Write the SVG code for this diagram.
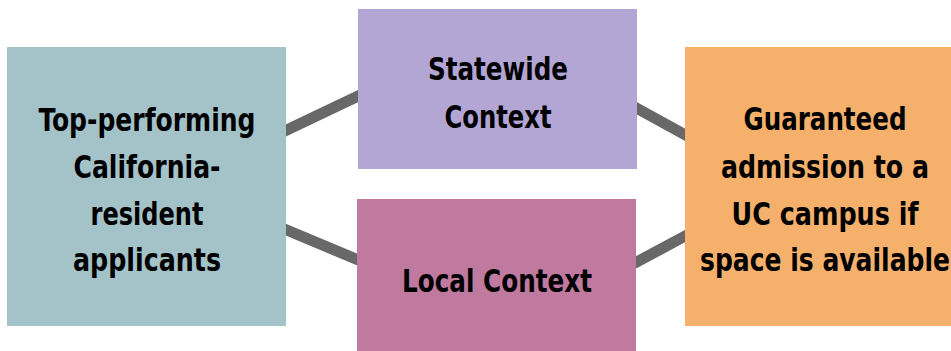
<svg xmlns="http://www.w3.org/2000/svg" width="951" height="351" viewBox="0 0 951 351">
<style>
.lbl{font-family:"Liberation Sans Narrow","DejaVu Sans Condensed","Liberation Sans",Arial,sans-serif;font-weight:bold;font-size:32px;fill:#000;text-anchor:middle}
.conn{stroke:#686868;stroke-width:11;fill:none}
</style>
<rect width="951" height="351" fill="#fff"/>
<g id="connectors">
<line class="conn" x1="270" y1="138" x2="375" y2="88"/>
<line class="conn" x1="270" y1="223" x2="375" y2="267"/>
<line class="conn" x1="620" y1="99" x2="700" y2="143"/>
<line class="conn" x1="620" y1="271" x2="700" y2="228"/>
</g>
<g id="applicants">
<rect x="7" y="47" width="279" height="279" fill="#a4c3c8"/>
<text class="lbl" x="147" y="131" textLength="217" lengthAdjust="spacingAndGlyphs">Top-performing</text>
<text class="lbl" x="147" y="178" textLength="147" lengthAdjust="spacingAndGlyphs">California-</text>
<text class="lbl" x="147" y="225" textLength="113" lengthAdjust="spacingAndGlyphs">resident</text>
<text class="lbl" x="147" y="271" textLength="148" lengthAdjust="spacingAndGlyphs">applicants</text>
</g>
<g id="statewide">
<rect x="358" y="9" width="279" height="160" fill="#b3a6d4"/>
<text class="lbl" x="498" y="80" textLength="140" lengthAdjust="spacingAndGlyphs">Statewide</text>
<text class="lbl" x="498" y="128" textLength="107" lengthAdjust="spacingAndGlyphs">Context</text>
</g>
<g id="local">
<rect x="357" y="199" width="279" height="160" fill="#c07aa0"/>
<text class="lbl" x="497" y="292" textLength="190" lengthAdjust="spacingAndGlyphs">Local Context</text>
</g>
<g id="guaranteed">
<rect x="685" y="47" width="280" height="279" fill="#f5b06b"/>
<text class="lbl" x="825" y="130" textLength="163" lengthAdjust="spacingAndGlyphs">Guaranteed</text>
<text class="lbl" x="825" y="178" textLength="208" lengthAdjust="spacingAndGlyphs">admission to a</text>
<text class="lbl" x="825" y="225" textLength="187" lengthAdjust="spacingAndGlyphs">UC campus if</text>
<text class="lbl" x="825" y="271" textLength="250" lengthAdjust="spacingAndGlyphs">space is available</text>
</g>
</svg>
